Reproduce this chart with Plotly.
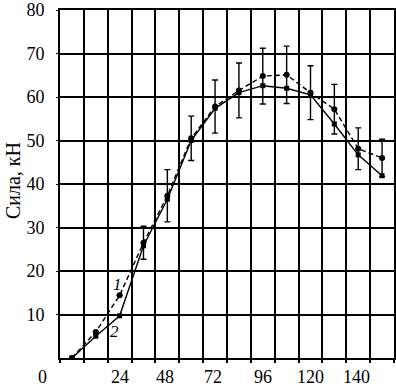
import plotly.graph_objects as go

# Data
x_vals = [0, 12, 24, 36, 48, 60, 72, 84, 96, 108, 120, 132, 144, 156]
series1 = [0, 6, 14.4, 26.5, 37.3, 50.5, 57.8, 61.5, 64.8, 65.1, 61.0, 57.2, 48.1, 46.0]
series2 = [0, 5, 9.7, 25.8, 36.5, 50.0, 57.4, 61.0, 62.6, 62.0, 60.5, 53.8, 46.7, 41.9]
err1 = [0, 0, 0, 3.8, 6.0, 5.1, 6.1, 6.3, 6.4, 6.6, 6.2, 5.7, 4.8, 4.3]

x_tick_vals = [-15, 24, 47, 71, 96, 120, 143]
x_tick_text = ["0", "24", "48", "72", "96", "120", "140"]
y_tick_vals = [10, 20, 30, 40, 50, 60, 70, 80]
y_tick_text = ["10", "20", "30", "40", "50", "60", "70", "80"]
curve_labels = ["1", "2"]
curve_label_x = [23, 21.5]
curve_label_y = [17, 6]
y_title = "Сила, кН"

X_RANGE = [-6, 162]
FONT = "Liberation Serif"
fig = go.Figure()

fig.add_trace(go.Scatter(
    x=x_vals, y=series2, mode="lines+markers",
    line=dict(color="black", width=1.4),
    marker=dict(symbol="square", size=5, color="black"),
    showlegend=False,
))
fig.add_trace(go.Scatter(
    x=x_vals, y=series1, mode="lines+markers",
    line=dict(color="black", width=1.4, dash="5px,3px"),
    marker=dict(symbol="circle", size=6, color="black"),
    error_y=dict(type="data", array=err1, visible=True, color="black",
                 thickness=1.4, width=3),
    showlegend=False,
))

annotations = []
for xv, t in zip(x_tick_vals, x_tick_text):
    px = (xv - X_RANGE[0]) / (X_RANGE[1] - X_RANGE[0])
    annotations.append(dict(x=px, y=0, xref="paper", yref="paper", text=t,
                            showarrow=False, yshift=-19, yanchor="middle",
                            xanchor="center",
                            font=dict(family=FONT, size=18, color="black")))
for xv, yv, t in zip(curve_label_x, curve_label_y, curve_labels):
    annotations.append(dict(x=xv, y=yv, xref="x", yref="y", text="<i>" + t + "</i>",
                            showarrow=False, xanchor="center", yanchor="middle",
                            font=dict(family=FONT, size=17, color="black")))
annotations.append(dict(x=-0.142, y=0.51, xref="paper", yref="paper", text=y_title,
                        textangle=-90, showarrow=False, xanchor="center",
                        yanchor="middle",
                        font=dict(family=FONT, size=20, color="black")))

fig.update_layout(
    width=396, height=387,
    margin=dict(l=60, r=0, t=7, b=29),
    paper_bgcolor="white", plot_bgcolor="white",
    annotations=annotations,
    xaxis=dict(range=X_RANGE, tick0=-6, dtick=12, tickmode="linear",
               showgrid=True, gridcolor="black", gridwidth=1.6,
               showticklabels=False, ticks="outside", ticklen=3,
               tickcolor="black", tickwidth=1.5,
               showline=True, linecolor="black", linewidth=2, mirror=True,
               zeroline=False, fixedrange=True),
    yaxis=dict(range=[0, 80], tickvals=y_tick_vals, ticktext=y_tick_text,
               showgrid=True, gridcolor="black", gridwidth=1.6,
               ticks="outside", ticklen=2, tickcolor="black",
               ticklabelstandoff=8, ticklabeloverflow="allow",
               tickfont=dict(family=FONT, size=18, color="black"),
               showline=True, linecolor="black", linewidth=2, mirror=True,
               zeroline=False, fixedrange=True),
)

fig.write_html("out.html", config={"displayModeBar": False},
               post_script="document.body.style.margin='0';document.body.style.overflow='hidden';")
